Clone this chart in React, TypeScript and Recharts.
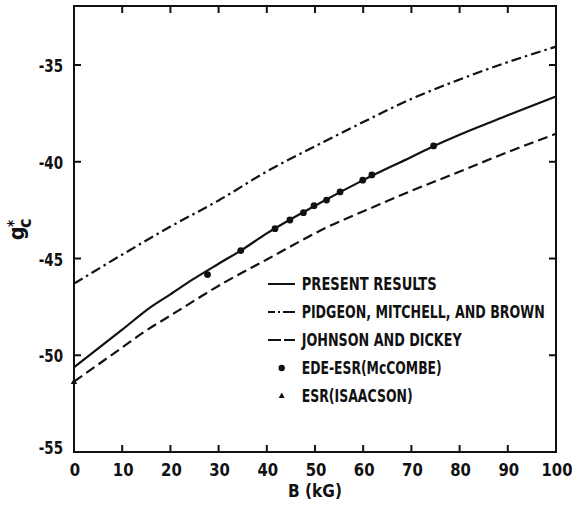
import React from 'react';
import { ComposedChart, Line, Scatter, XAxis, YAxis, Legend } from 'recharts';

// ---- data ----
const xTicks = [0, 10, 20, 30, 40, 50, 60, 70, 80, 90, 100];
const yTicks = [-55, -50, -45, -40, -35];
const xDomain = [0, 100];
const yDomain = [-55, -31.95];

const presentB = [0, 10, 15.7, 20, 24.4, 30, 34.6, 40, 50, 60, 70, 74.7, 80, 90, 100];
const presentG = [-50.62, -48.68, -47.55, -46.85, -46.12, -45.27, -44.59, -43.7, -42.27, -40.95, -39.75, -39.18, -38.6, -37.6, -36.62];

const pidgeonB = [0, 10, 20, 30, 40, 50, 60, 70, 80, 90, 100];
const pidgeonG = [-46.3, -44.8, -43.35, -42.0, -40.5, -39.2, -37.95, -36.75, -35.75, -34.85, -34.05];

const johnsonB = [0, 10, 14.7, 20, 31.6, 40, 52.3, 63.4, 70, 79.8, 90, 100];
const johnsonG = [-51.36, -49.6, -48.77, -47.95, -46.18, -45.05, -43.41, -42.2, -41.5, -40.53, -39.5, -38.55];

const mccombeB = [27.7, 34.6, 41.7, 44.8, 47.6, 49.8, 52.4, 55.2, 59.9, 61.8, 74.6];
const mccombeG = [-45.83, -44.59, -43.46, -43.01, -42.63, -42.27, -41.98, -41.56, -40.95, -40.68, -39.18];

const isaacsonB = [0];
const isaacsonG = [-51.35];

const legendLabels = [
  'PRESENT RESULTS',
  'PIDGEON, MITCHELL, AND BROWN',
  'JOHNSON AND DICKEY',
  'EDE-ESR(McCOMBE)',
  'ESR(ISAACSON)',
];
const legendWidths = [135, 243, 160, 140, 111];

const zip = (bs: number[], gs: number[]) => bs.map((b, i) => ({ b, g: gs[i] }));
const present = zip(presentB, presentG);
const pidgeon = zip(pidgeonB, pidgeonG);
const johnson = zip(johnsonB, johnsonG);
const mccombe = zip(mccombeB, mccombeG);
const isaacson = zip(isaacsonB, isaacsonG);

// ---- layout ----
const W = 572;
const H = 517;
const MARGIN = { top: 6, right: 16, bottom: 0, left: 0 };
const Y_AXIS_W = 74;
const X_AXIS_H = 65;
const PLOT_W = W - MARGIN.left - MARGIN.right - Y_AXIS_W; // 482
const PLOT_H = H - MARGIN.top - MARGIN.bottom - X_AXIS_H; // 446

const FONT = "'Liberation Sans Narrow', 'DejaVu Sans Condensed', 'Arial Narrow', 'DejaVu Sans', sans-serif";
const INK = '#111111';
const DASH = '10 5';
const DASHDOT = '10 4 2.5 4';
const TICK = 7;

const CText = (p: any) => (
  <text
    transform={`translate(${p.x},${p.y}) scale(${p.sx},1)`}
    textAnchor={p.anchor || 'middle'}
    fontSize={p.size}
    fontWeight="bold"
    fontFamily={FONT}
    fill={INK}
  >
    {p.children}
  </text>
);

// bottom axis tick: inward tick at the bottom and at the top frame, label below
const BottomTick = (p: any) => {
  const v = Number(p.payload.value);
  const inner = v > xDomain[0] && v < xDomain[1];
  return (
    <g>
      {inner && <line x1={p.x} x2={p.x} y1={p.y} y2={p.y - TICK} stroke={INK} strokeWidth={2} />}
      {inner && <line x1={p.x} x2={p.x} y1={p.y - PLOT_H} y2={p.y - PLOT_H + TICK} stroke={INK} strokeWidth={2} />}
      <CText x={p.x + 1} y={p.y + 24} sx={0.92} size={18}>{p.payload.value}</CText>
    </g>
  );
};
// left axis tick: inward tick at the left and at the right frame, label to the left
const LeftTick = (p: any) => {
  const v = Number(p.payload.value);
  const inner = v > yDomain[0];
  return (
    <g>
      {inner && <line x1={p.x} x2={p.x + TICK} y1={p.y} y2={p.y} stroke={INK} strokeWidth={2} />}
      {inner && <line x1={p.x + PLOT_W} x2={p.x + PLOT_W - TICK} y1={p.y} y2={p.y} stroke={INK} strokeWidth={2} />}
      <CText x={p.x - 11} y={p.y + (v === -55 ? 2 : 7)} sx={0.88} size={17} anchor="end">{p.payload.value}</CText>
    </g>
  );
};

const YLabel = (props: any) => {
  const vb = props.viewBox || { x: 0, y: 0, width: 0, height: 0 };
  const cy = vb.y + vb.height / 2;
  return (
    <g transform={`translate(0, ${cy}) rotate(-90)`} fontFamily={FONT} fontWeight="bold" fill={INK}>
      <text x={-11} y={24} fontSize={21}>g</text>
      <text x={2} y={19} fontSize={15}>*</text>
      <text x={1} y={31} fontSize={18}>c</text>
    </g>
  );
};
const XLabel = (props: any) => {
  const vb = props.viewBox || { x: 0, y: 0, width: 0, height: 0 };
  return <CText x={vb.x + vb.width / 2} y={497} sx={0.95} size={18}>B (kG)</CText>;
};

const Triangle = (p: any) => (
  <polygon points={`${p.cx},${p.cy - 3.5} ${p.cx - 3.2},${p.cy + 2.5} ${p.cx + 3.2},${p.cy + 2.5}`} fill={INK} />
);
const Dot = (p: any) => <circle cx={p.cx} cy={p.cy} r={3.4} fill={INK} />;

const samples = [
  <line key="a" x1={2} x2={29} y1={14} y2={14} stroke={INK} strokeWidth={2} />,
  <line key="b" x1={2} x2={29} y1={14} y2={14} stroke={INK} strokeWidth={2} strokeDasharray="7 3 2 3 12" />,
  <line key="c" x1={2} x2={29} y1={14} y2={14} stroke={INK} strokeWidth={2} strokeDasharray="13 3 12" />,
  <circle key="d" cx={15.7} cy={14} r={3.2} fill={INK} />,
  <polygon key="e" points="15.7,10.5 12.7,16 18.7,16" fill={INK} />,
];

const LegendBox = () => (
  <div style={{ width: 306 }}>
    {legendLabels.map((t, i) => (
      <svg key={t} width={306} height={27.8} style={{ display: 'block' }}>
        {samples[i]}
        <text
          x={35.7}
          y={20}
          fontSize={17}
          fontWeight="bold"
          fontFamily={FONT}
          fill={INK}
          textLength={legendWidths[i]}
          lengthAdjust="spacingAndGlyphs"
        >
          {t}
        </text>
      </svg>
    ))}
  </div>
);

// plot frame drawn around the Recharts plot area (uses the same layout constants)
const frameStyle: React.CSSProperties = {
  position: 'absolute',
  left: MARGIN.left + Y_AXIS_W - 1,
  top: MARGIN.top - 1,
  width: PLOT_W + 2,
  height: PLOT_H + 2,
  border: `2px solid ${INK}`,
  boxSizing: 'border-box',
  pointerEvents: 'none',
};

export default function App() {
  return (
    <div style={{ position: 'absolute', left: 0, top: 0, width: W, height: H, background: '#fff' }}>
      <ComposedChart width={W} height={H} margin={MARGIN}>
        <XAxis
          type="number" dataKey="b" domain={xDomain} ticks={xTicks}
          height={X_AXIS_H} tickSize={0} tickMargin={0} tickLine={false}
          axisLine={{ stroke: INK, strokeWidth: 2 }} tick={<BottomTick />} label={<XLabel />}
          interval={0}
        />
        <YAxis
          type="number" dataKey="g" domain={yDomain} ticks={yTicks}
          width={Y_AXIS_W} tickSize={0} tickMargin={0} tickLine={false}
          axisLine={{ stroke: INK, strokeWidth: 2 }} tick={<LeftTick />} label={<YLabel />} interval={0}
        />
        <Line data={pidgeon} dataKey="g" type="monotone" stroke={INK} strokeWidth={2.2} strokeDasharray={DASHDOT} dot={false} activeDot={false} isAnimationActive={false} />
        <Line data={johnson} dataKey="g" type="monotone" stroke={INK} strokeWidth={2.2} strokeDasharray={DASH} dot={false} activeDot={false} isAnimationActive={false} />
        <Line data={present} dataKey="g" type="monotone" stroke={INK} strokeWidth={2.2} dot={false} activeDot={false} isAnimationActive={false} />
        <Scatter data={mccombe} dataKey="g" shape={<Dot />} isAnimationActive={false} />
        <Scatter data={isaacson} dataKey="g" shape={<Triangle />} isAnimationActive={false} />
        <Legend
          layout="horizontal" verticalAlign="middle" align="center"
          content={<LegendBox />}
          wrapperStyle={{ left: 266, top: 270.4, width: 306, height: 'auto' }}
        />
      </ComposedChart>
      <div style={frameStyle} />
    </div>
  );
}
